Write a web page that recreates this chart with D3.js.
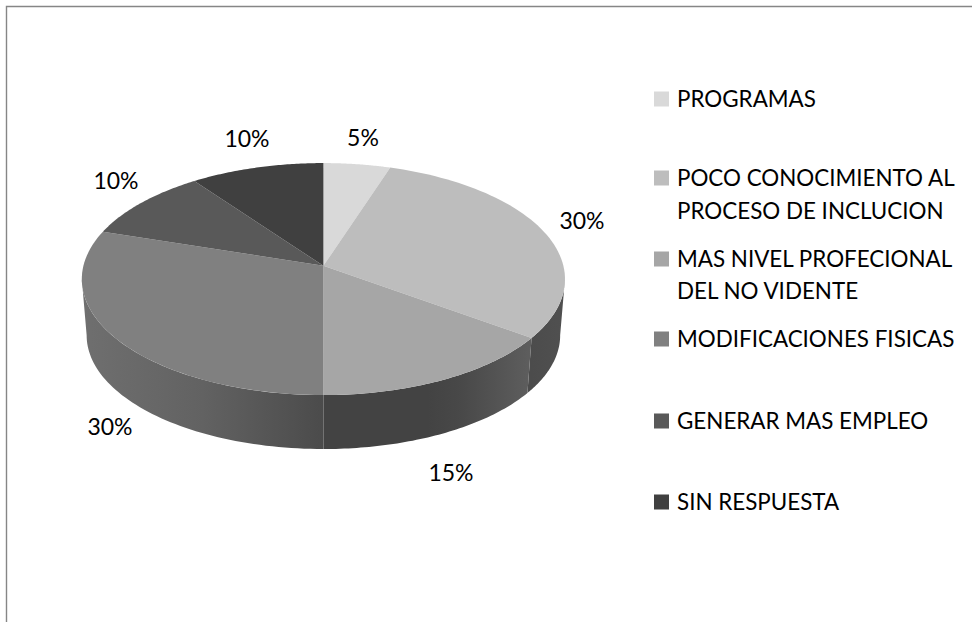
<!DOCTYPE html>
<html><head><meta charset="utf-8">
<script src="https://cdn.jsdelivr.net/npm/d3@7"></script>
<style>html,body{margin:0;padding:0;background:#fff}svg{display:block}text{font-family:Lato,sans-serif;fill:#000}</style>
</head><body><svg id="c" width="972" height="622"></svg>
<script>
const categories = ["PROGRAMAS","POCO CONOCIMIENTO AL|PROCESO DE INCLUCION","MAS NIVEL PROFECIONAL|DEL NO VIDENTE","MODIFICACIONES FISICAS","GENERAR MAS EMPLEO","SIN RESPUESTA"];
const values = [5,30,15,30,10,10];
const labels = ["5%","30%","15%","30%","10%","10%"];
const colors = ["#d9d9d9","#bdbdbd","#a6a6a6","#808080","#595959","#404040"];
const labelPos = [[363,138],[582,221],[451,473],[110,427],[116,181],[247,139]];
const legendLineY = [[99],[178,211],[259,291],[339],[421],[502]];

const svg = d3.select("#c");
const defs = svg.append("defs");
const K = 0.1146;
function project(theta, r, cx, cy, s){
  const x = Math.sin(theta)*r, y = -Math.cos(theta)*r;
  const w = 1 - K*y;
  return [cx + 240*s*x/w, cy + 114.5*s*y/w];
}
const topFace = {cx:323.4, cy:265.8, s:1};
const botFace = {cx:323.4, cy:322.3, s:0.98};
const P = (t,o)=>project(t,1,o.cx,o.cy,o.s);
const arcs = d3.pie().value(d=>d).sort(null)(values);
const line = d3.line();
function samples(a,b){ return d3.range(0,61).map(i=>a+(b-a)*i/60); }

// border
svg.append("path").attr("d","M6.5,622V6.5H972").attr("fill","none").attr("stroke","#868686").attr("stroke-width",1.4);

// side walls
const tanA = Math.PI - Math.asin(Math.sqrt(1-K*K));
const vis0 = tanA, vis1 = 2*Math.PI - tanA;
const wallStops = {
 1:[[0,"#505050"],[1,"#4c4c4c"]],
 2:[[0,"#5e5e5e"],[0.35,"#484848"],[0.5,"#434343"],[1,"#434343"]],
 3:[[0,"#6f6f6f"],[0.5,"#626262"],[1,"#4b4b4b"]]
};
arcs.forEach((d,i)=>{
  const a=Math.max(d.startAngle,vis0), b=Math.min(d.endAngle,vis1);
  if(b<=a) return;
  const stops = wallStops[i];
  const xs = [P(a,topFace)[0],P(b,topFace)[0]];
  const g = defs.append("linearGradient").attr("id","w"+i).attr("gradientUnits","userSpaceOnUse")
    .attr("x1",i===3?xs[1]:xs[0]).attr("x2",i===3?xs[0]:xs[1]).attr("y1",0).attr("y2",0);
  stops.forEach(s=>g.append("stop").attr("offset",s[0]).attr("stop-color",s[1]));
  const ang = samples(a,b);
  const pts = ang.map(t=>P(t,topFace)).concat(ang.slice().reverse().map(t=>P(t,botFace)));
  svg.append("path").attr("d",line(pts)+"Z").attr("fill",`url(#w${i})`);
});

// top faces
arcs.forEach((d,i)=>{
  const pts=[[topFace.cx,topFace.cy]].concat(samples(d.startAngle,d.endAngle).map(t=>P(t,topFace)));
  svg.append("path").attr("d",line(pts)+"Z").attr("fill",colors[i]);
});

// data labels
svg.selectAll("text.v").data(labels).join("text").attr("class","v")
  .attr("x",(d,i)=>labelPos[i][0]).attr("y",(d,i)=>labelPos[i][1]+8)
  .attr("text-anchor","middle").attr("font-size",23).text(d=>d);

// legend
categories.forEach((c,i)=>{
  const ys=legendLineY[i];
  svg.append("rect").attr("x",654).attr("y",ys[0]-7.5).attr("width",15).attr("height",15).attr("fill",colors[i]);
  c.split("|").forEach((t,j)=>svg.append("text").attr("x",677).attr("y",ys[j]+8).attr("font-size",22.4).text(t));
});
</script></body></html>
